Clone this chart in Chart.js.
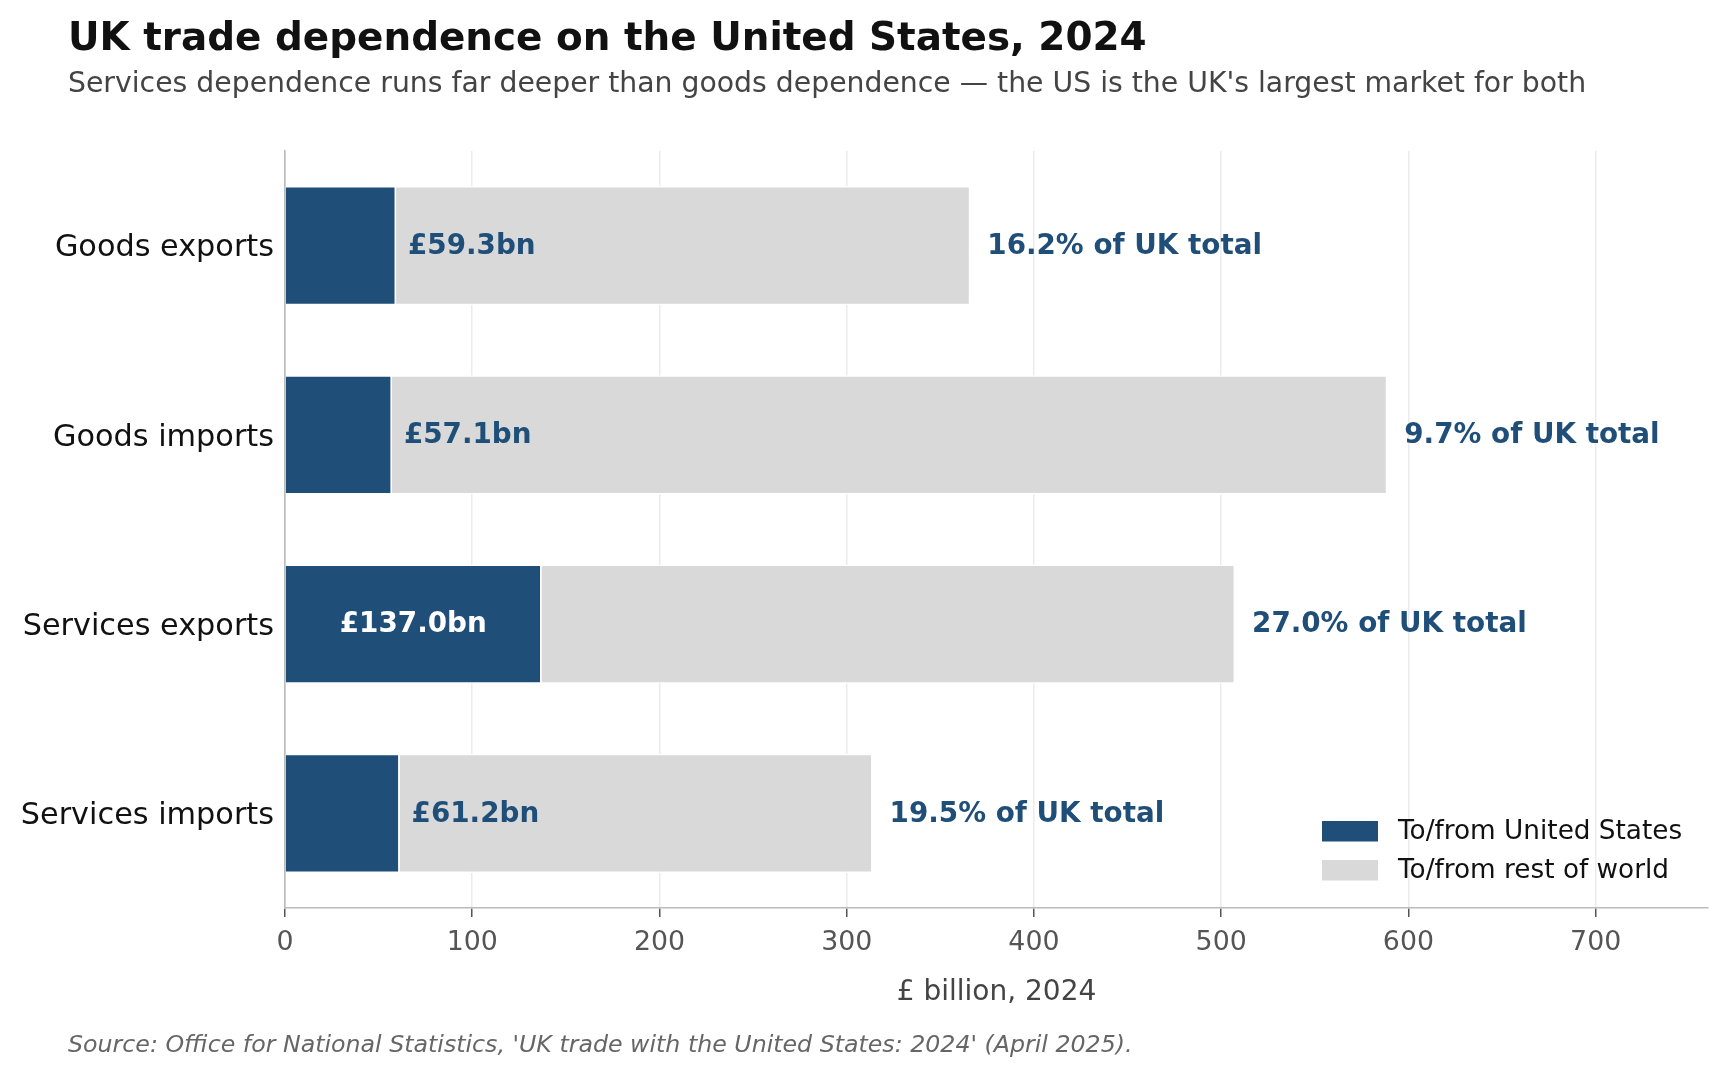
<!DOCTYPE html>
<html>
<head>
<meta charset="utf-8">
<script src="https://cdn.jsdelivr.net/npm/chart.js@4"></script>
<style>
  html, body { margin: 0; padding: 0; background: #fff; }
  #wrap { position: relative; width: 1726px; height: 1079px; font-family: "DejaVu Sans", sans-serif; }
  #chart-box { position: absolute; left: 0; top: 0; width: 1726px; height: 1079px; }
  .txt { position: absolute; left: 68px; white-space: nowrap; line-height: 1; }
  #title { top: 18px; font-size: 38.9px; font-weight: bold; color: #111; }
  #subtitle { top: 68.5px; font-size: 28.3px; color: #444; }
  #source { top: 1032.5px; font-size: 23.7px; font-style: italic; color: #666; }
</style>
</head>
<body>
<div id="wrap">
  <div id="chart-box"><canvas id="chart"></canvas></div>
  <div class="txt" id="title">UK trade dependence on the United States, 2024</div>
  <div class="txt" id="subtitle">Services dependence runs far deeper than goods dependence — the US is the UK's largest market for both</div>
  <div class="txt" id="source">Source: Office for National Statistics, 'UK trade with the United States: 2024' (April 2025).</div>
</div>
<script>
// values (£ billion, 2024)
const categories = ['Goods exports', 'Goods imports', 'Services exports', 'Services imports'];
const usValues = [59.3, 57.1, 137.0, 61.2];
const restValues = [306.7, 531.6, 370.4, 252.6];
const usSharePct = [16.2, 9.7, 27.0, 19.5];
const seriesLabels = ['To/from United States', 'To/from rest of world'];
const xTicks = [0, 100, 200, 300, 400, 500, 600, 700];
const xMax = 760;

const NAVY = '#1f4e79';
const GREY = '#d9d9d9';
const FONT = '"DejaVu Sans", sans-serif';

// value labels next to / inside the bars
const barLabels = {
  id: 'barLabels',
  afterDatasetsDraw(chart) {
    const { ctx, scales: { x, y } } = chart;
    ctx.save();
    ctx.font = 'bold 27.8px ' + FONT;
    ctx.textBaseline = 'middle';
    categories.forEach((cat, i) => {
      const yc = y.getPixelForValue(i) + 1;
      const us = usValues[i];
      const txt = '£' + us.toFixed(1) + 'bn';
      if (us > 100) {
        ctx.fillStyle = '#fff';
        ctx.textAlign = 'center';
        ctx.fillText(txt, x.getPixelForValue(us / 2), yc);
      } else {
        ctx.fillStyle = NAVY;
        ctx.textAlign = 'left';
        ctx.fillText(txt, x.getPixelForValue(us) + 12, yc);
      }
      const total = us + restValues[i];
      ctx.fillStyle = NAVY;
      ctx.textAlign = 'left';
      ctx.fillText(usSharePct[i].toFixed(1) + '% of UK total', x.getPixelForValue(total) + 17, yc);
    });
    ctx.restore();
  }
};

// legend in the lower right of the plot
const cornerLegend = {
  id: 'cornerLegend',
  afterDraw(chart) {
    const { ctx, chartArea } = chart;
    const lx = chartArea.right - 386;
    const ly = chartArea.bottom - 87;
    ctx.save();
    ctx.font = '26.3px ' + FONT;
    ctx.textBaseline = 'middle';
    ctx.textAlign = 'left';
    chart.data.datasets.forEach((ds, i) => {
      const top = ly + i * 39;
      ctx.fillStyle = ds.backgroundColor;
      ctx.fillRect(lx, top, 56, 20.5);
      ctx.fillStyle = '#111';
      ctx.fillText(ds.label, lx + 76, top + 11);
    });
    ctx.restore();
  }
};

new Chart(document.getElementById('chart'), {
  type: 'bar',
  data: {
    labels: categories,
    datasets: [
      {
        label: seriesLabels[0],
        data: usValues,
        backgroundColor: NAVY,
        borderColor: '#fff',
        borderWidth: 1.5
      },
      {
        label: seriesLabels[1],
        data: restValues,
        backgroundColor: GREY,
        borderColor: '#fff',
        borderWidth: 1.5
      }
    ]
  },
  options: {
    indexAxis: 'y',
    responsive: true,
    maintainAspectRatio: false,
    animation: false,
    datasets: { bar: { categoryPercentage: 1, barPercentage: 0.63 } },
    layout: { padding: { top: 151, right: 18, bottom: 41, left: 0 } },
    plugins: {
      legend: { display: false },
      tooltip: { enabled: false }
    },
    scales: {
      x: {
        stacked: true,
        min: 0,
        max: xMax,
        afterBuildTicks: (s) => { s.ticks = xTicks.map(v => ({ value: v })); },
        afterFit: (s) => { s.height = 130; },
        grid: { color: '#ebebeb', lineWidth: 1.5, tickColor: '#555', tickLength: 9, tickWidth: 1.5 },
        border: { color: '#bbb', width: 1.6 },
        ticks: { color: '#555', font: { family: FONT, size: 26.8 }, padding: 10, maxRotation: 0 },
        title: {
          display: true,
          text: '£ billion, 2024',
          color: '#444',
          font: { family: FONT, size: 28 },
          padding: { top: 10, bottom: 28 }
        }
      },
      y: {
        stacked: true,
        afterFit: (s) => { s.width = 285; },
        grid: { display: false, drawTicks: false },
        border: { color: '#bbb', width: 1.6 },
        ticks: { color: '#111', font: { family: FONT, size: 30.3 }, padding: 11, labelOffset: 3 }
      }
    }
  },
  plugins: [barLabels, cornerLegend]
});
</script>
</body>
</html>
